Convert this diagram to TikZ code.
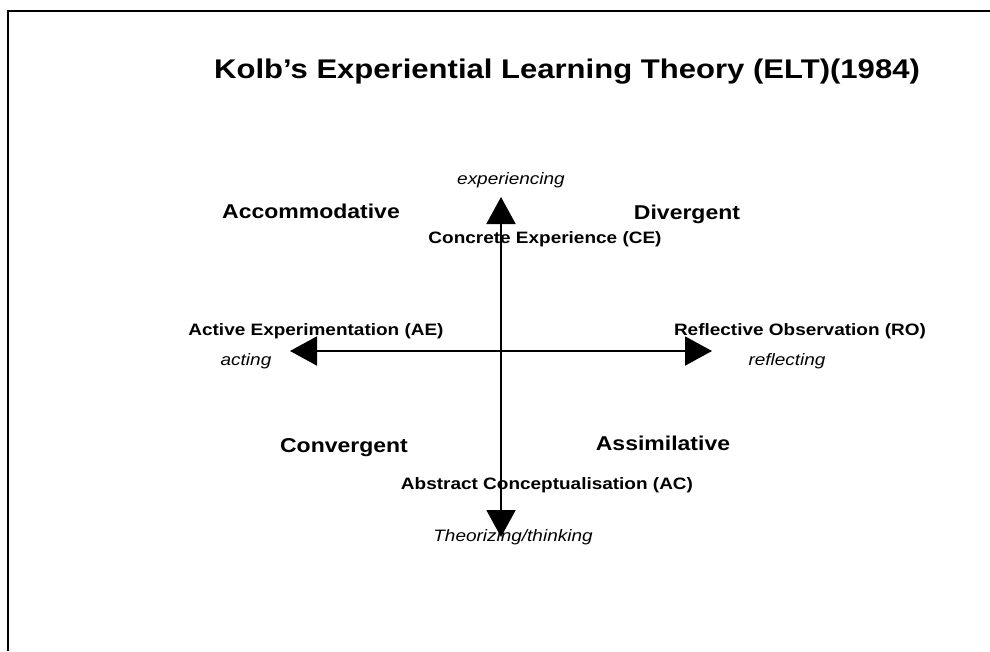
\documentclass[tikz,border=0pt]{standalone}
\usepackage{fontspec}
\setmainfont{Liberation Sans}[FakeStretch=1.15]
\usepackage{tikz}
\usetikzlibrary{
  arrows.meta,
  calc,
  positioning}

\tikzset{
  axis/.style={line width=2pt,
    {Triangle[length=27pt,width=29pt]}-{Triangle[length=27pt,width=29pt]}},
  quadrant/.style={anchor=base, font=\bfseries\fontsize{20}{24}\selectfont},
  pole/.style={anchor=base, font=\bfseries\fontsize{16.5}{20}\selectfont},
  verb/.style={anchor=base, font=\itshape\fontsize{16.5}{20}\selectfont}
}

\begin{document}
\begin{tikzpicture}[x=1pt,y=-1pt]
            \useasboundingbox (0,0) rectangle (990,651);
            \draw[line width=2pt] (7.5,651)--(7.5,10.5)--(990,10.5);
            \node (title) at (567,78) [anchor=base, font=\bfseries\fontsize{27}{32}\selectfont]
                {Kolb's Experiential Learning Theory (ELT)(1984)};

            % the two axes
            \coordinate (ce) at (501,197);
            \coordinate (ac) at (501,537);
            \coordinate (ae) at (290,351);
            \coordinate (ro) at (712,351);
            \draw[axis] (ac)--(ce);
            \draw[axis] (ae)--(ro);

            \node (exp) at (511,184) [verb] {experiencing};
            \node (celbl) at (545,243) [pole] {Concrete Experience (CE)};
            \node (aelbl) at (316,335) [pole] {Active Experimentation (AE)};
            \node (act) at (246,365) [verb] {acting};
            \node (rolbl) at (800,335) [pole] {Reflective Observation (RO)};
            \node (refl) at (787,365) [verb] {reflecting};
            \node (aclbl) at (547,489) [pole] {Abstract Conceptualisation (AC)};
            \node (theo) at (513,541) [verb] {Theorizing/thinking};

            \node (accom) at (311,218) [quadrant] {Accommodative};
            \node (diver) at (687,219) [quadrant] {Divergent};
            \node (conve) at (344,452) [quadrant] {Convergent};
            \node (assim) at (663,450) [quadrant] {Assimilative};
        \end{tikzpicture}
\end{document}
